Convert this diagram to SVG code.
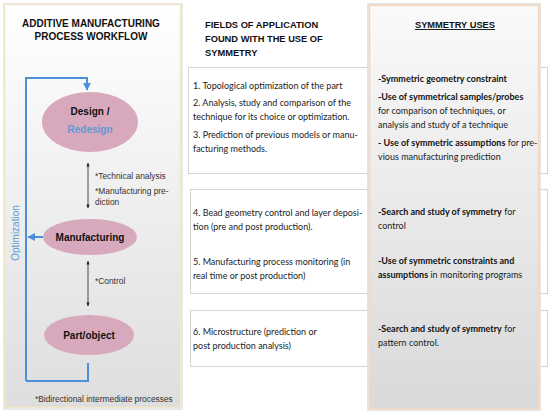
<svg xmlns="http://www.w3.org/2000/svg" width="550" height="414" viewBox="0 0 550 414">
<defs>
<linearGradient id="gL" x1="0" y1="0" x2="0" y2="1"><stop offset="0" stop-color="#ffffff"/><stop offset="1" stop-color="#dedede"/></linearGradient>
<linearGradient id="gR" x1="0" y1="0" x2="0" y2="1"><stop offset="0" stop-color="#fafafa"/><stop offset="1" stop-color="#d9d9d9"/></linearGradient>
<marker id="bh" viewBox="0 0 10 10" refX="9" refY="5" markerWidth="4" markerHeight="4" orient="auto-start-reverse"><path d="M0,0 L10,5 L0,10 z" fill="#4a90d9"/></marker>
<marker id="kh" viewBox="0 0 10 10" refX="9" refY="5" markerWidth="5" markerHeight="5" orient="auto-start-reverse"><path d="M0,1 L10,5 L0,9 z" fill="#222"/></marker>
<style>
.ttl{font-family:"Liberation Sans",Arial,sans-serif;font-weight:bold;fill:#111}
.node{fill:#d8a9bd}
.nt{font-family:"Liberation Sans",Arial,sans-serif;font-weight:bold;font-size:10px;fill:#111;text-anchor:middle}
.sm{font-family:"Liberation Sans",Arial,sans-serif;font-size:8.4px;fill:#333}
.cb{font-family:Lato,"Open Sans",sans-serif;font-size:9px;fill:#222}
.b{font-weight:bold;fill:#111}
.box{fill:#fff;stroke:#d4d4d4;stroke-width:1}
.blue{stroke:#4a90d9;stroke-width:2;fill:none}
.thin{stroke:#222;stroke-width:0.8;fill:none}
</style>
</defs>
<rect width="550" height="414" fill="#fff"/>
<g id="panel-left">
<rect x="3" y="3" width="180" height="407" fill="#e8e8e8"/>
<rect x="4.5" y="4.5" width="176" height="403" fill="url(#gL)" stroke="#f1e7c9" stroke-width="1.5"/>
<text class="ttl" font-size="10" x="91" y="27" text-anchor="middle">ADDITIVE MANUFACTURING</text>
<text class="ttl" font-size="10" x="91" y="40" text-anchor="middle">PROCESS WORKFLOW</text>
<text class="sm" x="35" y="402">*Bidirectional intermediate processes</text>
<text font-family="Liberation Sans,Arial,sans-serif" font-size="10" fill="#5b9bd5" transform="translate(19,233) rotate(-90)" text-anchor="middle">Optimization</text>
</g>
<g id="boxes">
<rect class="box" x="188.5" y="67.5" width="359" height="106" stroke="#b8b8b8"/>
<rect class="box" x="190.5" y="189.5" width="357" height="104"/>
<rect class="box" x="190.5" y="310.5" width="357" height="56"/>
</g>
<g id="title-mid">
<text class="ttl" font-size="9.3" x="205" y="28">FIELDS OF APPLICATION</text>
<text class="ttl" font-size="9.3" x="205" y="42">FOUND WITH THE USE OF</text>
<text class="ttl" font-size="9.3" x="205" y="56">SYMMETRY</text>
</g>
<g id="fields">
<text class="cb" x="193" y="89">1. Topological optimization of the part</text>
<text class="cb" x="193" y="106">2. Analysis, study and comparison of the</text>
<text class="cb" x="193" y="120">technique for its choice or optimization.</text>
<text class="cb" x="193" y="138">3. Prediction of previous models or manu-</text>
<text class="cb" x="193" y="152">facturing methods.</text>
<text class="cb" x="193" y="216">4. Bead geometry control and layer deposi-</text>
<text class="cb" x="193" y="230">tion (pre and post production).</text>
<text class="cb" x="193" y="265">5. Manufacturing process monitoring (in</text>
<text class="cb" x="193" y="279">real time or post production)</text>
<text class="cb" x="193" y="335">6. Microstructure (prediction or</text>
<text class="cb" x="193" y="349">post production analysis)</text>
</g>
<g id="panel-right">
<rect x="367" y="3" width="174" height="408" fill="#e4e4e4"/>
<rect x="369.5" y="5.5" width="169" height="403" fill="url(#gR)" stroke="#f6d6bb" stroke-width="1.5"/>
<text class="ttl" font-size="9.3" x="455" y="28" text-anchor="middle" text-decoration="underline">SYMMETRY USES</text>
<text class="cb" x="378" y="82"><tspan class="b">-Symmetric geometry constraint</tspan></text>
<text class="cb" x="378" y="100"><tspan class="b">-Use of symmetrical samples/probes</tspan></text>
<text class="cb" x="378" y="114">for comparison of techniques, or</text>
<text class="cb" x="378" y="128">analysis and study of a technique</text>
<text class="cb" x="378" y="146"><tspan class="b">- Use of symmetric assumptions</tspan> for pre-</text>
<text class="cb" x="378" y="160">vious manufacturing prediction</text>
<text class="cb" x="378" y="215"><tspan class="b">-Search and study of symmetry</tspan> for</text>
<text class="cb" x="378" y="229">control</text>
<text class="cb" x="378" y="264"><tspan class="b">-Use of symmetric constraints and</tspan></text>
<text class="cb" x="378" y="278"><tspan class="b">assumptions</tspan> in monitoring programs</text>
<text class="cb" x="378" y="332"><tspan class="b">-Search and study of symmetry</tspan> for</text>
<text class="cb" x="378" y="346">pattern control.</text>
</g>
<g id="connectors">
<path class="blue" d="M26,381 V78 H87 V90" marker-end="url(#bh)"/>
<path class="blue" d="M88,363 V381 H26"/>
<path class="blue" d="M43,237 H28" marker-end="url(#bh)"/>
<path class="thin" d="M88,163 V208" marker-start="url(#kh)" marker-end="url(#kh)"/>
<path class="thin" d="M88,261 V306" marker-start="url(#kh)" marker-end="url(#kh)"/>
<text class="sm" x="95" y="179">*Technical analysis</text>
<text class="sm" x="95" y="194">*Manufacturing pre-</text>
<text class="sm" x="95" y="205">diction</text>
<text class="sm" x="95" y="284">*Control</text>
</g>
<g id="node-design">
<ellipse class="node" cx="90" cy="122" rx="48" ry="30"/>
<text class="nt" x="90" y="115">Design /</text>
<text class="nt" x="90" y="133" style="fill:#5b9bd5">Redesign</text>
</g>
<g id="node-manufacturing">
<ellipse class="node" cx="90" cy="237" rx="47" ry="18"/>
<text class="nt" x="90" y="241">Manufacturing</text>
</g>
<g id="node-part">
<ellipse class="node" cx="89" cy="335" rx="45" ry="20"/>
<text class="nt" x="89" y="339">Part/object</text>
</g>
</svg>
